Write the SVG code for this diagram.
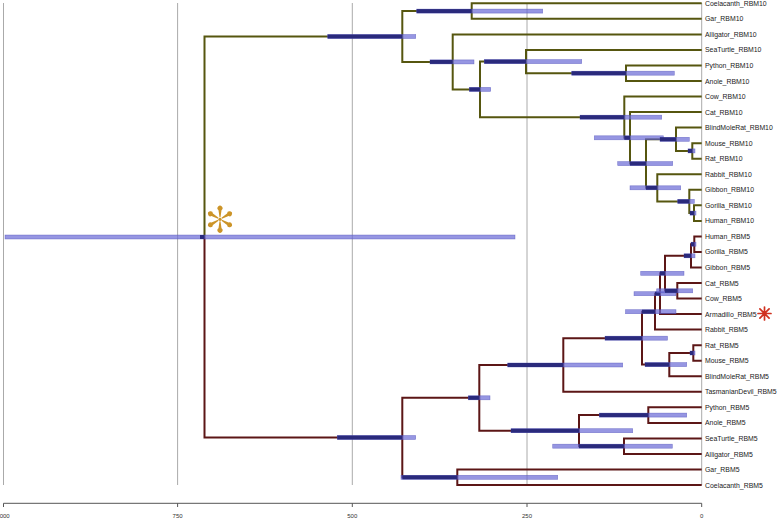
<svg xmlns="http://www.w3.org/2000/svg" width="778" height="519" viewBox="0 0 778 519">
<style>
.grid{stroke:#aaaaaa;stroke-width:1;fill:none}
.ax{stroke:#555555;stroke-width:1;fill:none}
.axt{font-family:"Liberation Sans",Arial,sans-serif;font-size:6px;fill:#333333;text-anchor:middle}
.b10{stroke:#56560f;stroke-width:2;fill:none}
.b5{stroke:#5c1616;stroke-width:2;fill:none}
.bar{fill:#6a6ad6;fill-opacity:0.7;stroke:#4a4ab8;stroke-opacity:0.6;stroke-width:0.6}
.hpd{fill:#2a2a7c}
.lbl{font-family:"Liberation Sans",Arial,sans-serif;font-size:6.9px;fill:#1a1a1a}
.orn{fill:#cc9428}
.red{stroke:#d0311f;stroke-width:1.7;stroke-linecap:round;fill:none}
</style>
<defs>
<path id="spoke" d="M -0.5,-2 L -1.5,-9 A 2.5 2.5 0 1 1 1.5,-9 L 0.5,-2 Z"/>
</defs>
<rect width="778" height="519" fill="#ffffff"/>
<g id="grid">
<path class="grid" d="M3.5,3V485M177.6,3V485M352.3,3V485M527,3V485M701.7,3V485"/>
</g>
<g id="axis">
<path class="ax" d="M3.5,503.3H701.7M3.5,503.3V507M177.6,503.3V507M352.3,503.3V507M527,503.3V507M701.7,503.3V507"/>
<text class="axt" x="3" y="518">1000</text>
<text class="axt" x="177.6" y="518">750</text>
<text class="axt" x="352.3" y="518">500</text>
<text class="axt" x="527" y="518">250</text>
<text class="axt" x="701.7" y="518">0</text>
</g>
<g id="connectors">
<path class="b10" d="M200,237H204.5"/>
<path class="b10" d="M204.5,237V36.5H402.3"/>
<path class="b10" d="M471.7,11.1H402.3V61.9H452.7"/>
<path class="b10" d="M701.7,3.3H471.7V18.8H701.7"/>
<path class="b10" d="M701.7,34.4H452.7V89.4H480"/>
<path class="b10" d="M526,61.6H480V117.2H624.3"/>
<path class="b10" d="M701.7,49.9H526V73.2H626"/>
<path class="b10" d="M701.7,65.5H626V81H701.7"/>
<path class="b10" d="M701.7,96.5H624.3V137.8H630"/>
<path class="b10" d="M701.7,112.1H630V163.6H646"/>
<path class="b10" d="M676,139.3H646V187.8H657.3"/>
<path class="b10" d="M701.7,127.6H676V150.9H692.3"/>
<path class="b10" d="M701.7,143.2H692.3V158.7H701.7"/>
<path class="b10" d="M701.7,174.2H657.3V201.4H689.3"/>
<path class="b10" d="M701.7,189.8H689.3V213.1H694"/>
<path class="b10" d="M701.7,205.3H694V220.9H701.7"/>
<path class="b5" d="M204.5,237V437.5H402.3"/>
<path class="b5" d="M479.3,397.8H402.3V477.3H457.3"/>
<path class="b5" d="M701.7,469.5H457.3V485H701.7"/>
<path class="b5" d="M563.3,365H479.3V430.7H579"/>
<path class="b5" d="M642,338.2H563.3V391.8H701.7"/>
<path class="b5" d="M655,311.7H642V364.6H669.3"/>
<path class="b5" d="M660,293.7H655V329.6H701.7"/>
<path class="b5" d="M665,273.3H660V314.1H701.7"/>
<path class="b5" d="M691,255.8H665V290.8H677.3"/>
<path class="b5" d="M694.3,244.2H691V267.5H701.7"/>
<path class="b5" d="M701.7,236.4H694.3V251.9H701.7"/>
<path class="b5" d="M701.7,283H677.3V298.6H701.7"/>
<path class="b5" d="M693.3,353H669.3V376.3H701.7"/>
<path class="b5" d="M701.7,345.2H693.3V360.7H701.7"/>
<path class="b5" d="M648.3,415.1H579V446.2H624"/>
<path class="b5" d="M701.7,407.3H648.3V422.9H701.7"/>
<path class="b5" d="M701.7,438.4H624V454H701.7"/>
</g>
<g id="node-root"><rect class="bar" x="5" y="235" width="510" height="4"/><rect class="hpd" x="200" y="235" width="4.5" height="4"/></g>
<g id="node-rbm10"><rect class="bar" x="327.7" y="34.5" width="88" height="4"/><rect class="hpd" x="327.7" y="34.5" width="74.6" height="4"/></g>
<g id="node-coel-gar-10"><rect class="bar" x="416.7" y="9.1" width="126" height="4"/><rect class="hpd" x="416.7" y="9.1" width="55" height="4"/></g>
<g id="node-tetrapods-10"><rect class="bar" x="430" y="59.9" width="44" height="4"/><rect class="hpd" x="430" y="59.9" width="22.7" height="4"/></g>
<g id="node-amniotes-10"><rect class="bar" x="469.3" y="87.4" width="21.4" height="4"/><rect class="hpd" x="469.3" y="87.4" width="10.7" height="4"/></g>
<g id="node-reptiles-10"><rect class="bar" x="484.3" y="59.6" width="97.4" height="4"/><rect class="hpd" x="484.3" y="59.6" width="41.7" height="4"/></g>
<g id="node-squamates-10"><rect class="bar" x="571.7" y="71.2" width="102.6" height="4"/><rect class="hpd" x="571.7" y="71.2" width="54.3" height="4"/></g>
<g id="node-mammals-10"><rect class="bar" x="580" y="115.2" width="81.7" height="4"/><rect class="hpd" x="580" y="115.2" width="44.3" height="4"/></g>
<g id="node-j-10"><rect class="bar" x="594.3" y="135.8" width="69" height="4"/><rect class="hpd" x="624.3" y="135.8" width="5.7" height="4"/></g>
<g id="node-k-10"><rect class="bar" x="617.7" y="161.6" width="55" height="4"/><rect class="hpd" x="630" y="161.6" width="16" height="4"/></g>
<g id="node-rodents-10"><rect class="bar" x="660" y="137.3" width="29.3" height="4"/><rect class="hpd" x="660" y="137.3" width="16" height="4"/></g>
<g id="node-mouse-rat-10"><rect class="bar" x="688" y="148.9" width="7" height="4"/><rect class="hpd" x="688" y="148.9" width="4.3" height="4"/></g>
<g id="node-l-10"><rect class="bar" x="630" y="185.8" width="50.7" height="4"/><rect class="hpd" x="646" y="185.8" width="11.3" height="4"/></g>
<g id="node-apes-10"><rect class="bar" x="677.7" y="199.4" width="16.6" height="4"/><rect class="hpd" x="677.7" y="199.4" width="11.6" height="4"/></g>
<g id="node-hg-10"><rect class="bar" x="690" y="211.1" width="6" height="4"/><rect class="hpd" x="690" y="211.1" width="4" height="4"/></g>
<g id="node-rbm5"><rect class="bar" x="337.3" y="435.5" width="78.4" height="4"/><rect class="hpd" x="337.3" y="435.5" width="65" height="4"/></g>
<g id="node-amniotes-5"><rect class="bar" x="468.3" y="395.8" width="21.7" height="4"/><rect class="hpd" x="468.3" y="395.8" width="11" height="4"/></g>
<g id="node-gar-coel-5"><rect class="bar" x="401" y="475.3" width="156.7" height="4"/><rect class="hpd" x="402.3" y="475.3" width="55" height="4"/></g>
<g id="node-mammals-5"><rect class="bar" x="507.7" y="363" width="115" height="4"/><rect class="hpd" x="507.7" y="363" width="55.6" height="4"/></g>
<g id="node-reptiles-5"><rect class="bar" x="511" y="428.7" width="121.7" height="4"/><rect class="hpd" x="511" y="428.7" width="68" height="4"/></g>
<g id="node-squamates-5"><rect class="bar" x="599.3" y="413.1" width="87.4" height="4"/><rect class="hpd" x="599.3" y="413.1" width="49" height="4"/></g>
<g id="node-archosaurs-5"><rect class="bar" x="552.7" y="444.2" width="119.6" height="4"/><rect class="hpd" x="579" y="444.2" width="45" height="4"/></g>
<g id="node-eutherians-5"><rect class="bar" x="605" y="336.2" width="62.5" height="4"/><rect class="hpd" x="605" y="336.2" width="37" height="4"/></g>
<g id="node-rodents-5"><rect class="bar" x="645" y="362.6" width="41.7" height="4"/><rect class="hpd" x="645" y="362.6" width="24.3" height="4"/></g>
<g id="node-rat-mouse-5"><rect class="bar" x="690" y="351" width="5" height="4"/><rect class="hpd" x="690" y="351" width="3.3" height="4"/></g>
<g id="node-q-5"><rect class="bar" x="625.5" y="309.7" width="50.5" height="4"/><rect class="hpd" x="642" y="309.7" width="13" height="4"/></g>
<g id="node-x-5"><rect class="bar" x="634" y="291.7" width="42" height="4"/><rect class="hpd" x="655" y="291.7" width="5" height="4"/></g>
<g id="node-y-5"><rect class="bar" x="640.7" y="271.3" width="43.3" height="4"/><rect class="hpd" x="660" y="271.3" width="5" height="4"/></g>
<g id="node-cat-cow-5"><rect class="bar" x="656.7" y="288.8" width="36" height="4"/><rect class="hpd" x="665" y="288.8" width="12.3" height="4"/></g>
<g id="node-apes-5"><rect class="bar" x="684" y="253.8" width="11" height="4"/><rect class="hpd" x="684" y="253.8" width="7" height="4"/></g>
<g id="node-hg-5"><rect class="bar" x="691" y="242.2" width="5" height="4"/><rect class="hpd" x="691" y="242.2" width="3.3" height="4"/></g>
<g id="leaves">
<text class="lbl" x="705" y="5.8">Coelacanth_RBM10</text>
<text class="lbl" x="705" y="21.3">Gar_RBM10</text>
<text class="lbl" x="705" y="36.9">Alligator_RBM10</text>
<text class="lbl" x="705" y="52.4">SeaTurtle_RBM10</text>
<text class="lbl" x="705" y="68">Python_RBM10</text>
<text class="lbl" x="705" y="83.5">Anole_RBM10</text>
<text class="lbl" x="705" y="99">Cow_RBM10</text>
<text class="lbl" x="705" y="114.6">Cat_RBM10</text>
<text class="lbl" x="705" y="130.1">BlindMoleRat_RBM10</text>
<text class="lbl" x="705" y="145.7">Mouse_RBM10</text>
<text class="lbl" x="705" y="161.2">Rat_RBM10</text>
<text class="lbl" x="705" y="176.7">Rabbit_RBM10</text>
<text class="lbl" x="705" y="192.3">Gibbon_RBM10</text>
<text class="lbl" x="705" y="207.8">Gorilla_RBM10</text>
<text class="lbl" x="705" y="223.4">Human_RBM10</text>
<text class="lbl" x="705" y="238.9">Human_RBM5</text>
<text class="lbl" x="705" y="254.4">Gorilla_RBM5</text>
<text class="lbl" x="705" y="270">Gibbon_RBM5</text>
<text class="lbl" x="705" y="285.5">Cat_RBM5</text>
<text class="lbl" x="705" y="301.1">Cow_RBM5</text>
<text class="lbl" x="705" y="316.6">Armadillo_RBM5</text>
<text class="lbl" x="705" y="332.1">Rabbit_RBM5</text>
<text class="lbl" x="705" y="347.7">Rat_RBM5</text>
<text class="lbl" x="705" y="363.2">Mouse_RBM5</text>
<text class="lbl" x="705" y="378.8">BlindMoleRat_RBM5</text>
<text class="lbl" x="705" y="394.3">TasmanianDevil_RBM5</text>
<text class="lbl" x="705" y="409.8">Python_RBM5</text>
<text class="lbl" x="705" y="425.4">Anole_RBM5</text>
<text class="lbl" x="705" y="440.9">SeaTurtle_RBM5</text>
<text class="lbl" x="705" y="456.5">Alligator_RBM5</text>
<text class="lbl" x="705" y="472">Gar_RBM5</text>
<text class="lbl" x="705" y="487.5">Coelacanth_RBM5</text>
</g>
<g id="mark-orange" class="orn" transform="translate(220,219.3)">
<use href="#spoke"/>
<use href="#spoke" transform="rotate(60)"/>
<use href="#spoke" transform="rotate(120)"/>
<use href="#spoke" transform="rotate(180)"/>
<use href="#spoke" transform="rotate(240)"/>
<use href="#spoke" transform="rotate(300)"/>
<circle r="1.6"/>
</g>
<g id="mark-red" transform="translate(764.5,313.5)">
<path class="red" d="M0,-6.5V6.5M-6.5,0H6.5M-4.6,-4.6L4.6,4.6M-4.6,4.6L4.6,-4.6"/>
</g>
</svg>
